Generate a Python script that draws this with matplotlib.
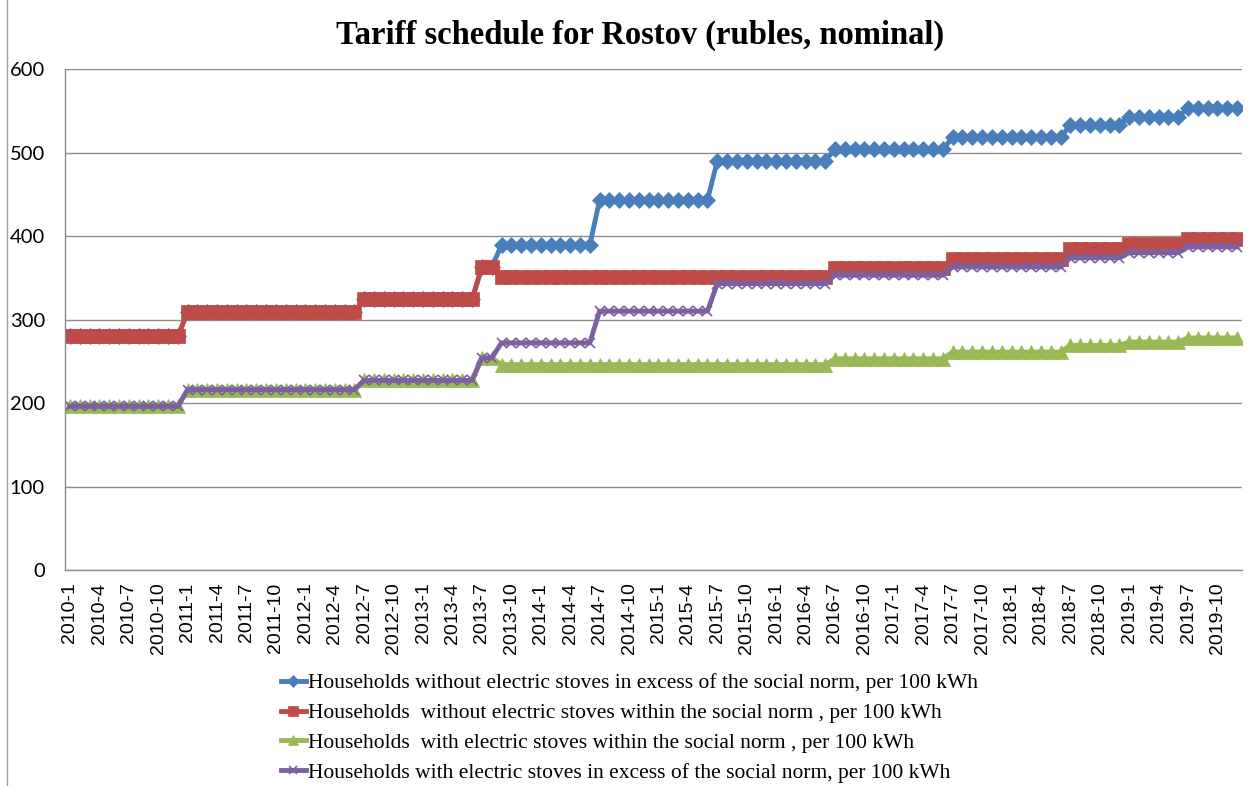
import numpy as np
import matplotlib
matplotlib.use("Agg")
import matplotlib.pyplot as plt
import matplotlib.patches as mpatches

# monthly tariffs, rubles per 100 kWh, 2010-1 .. 2019-12
no_stove_excess = [
    280, 280, 280, 280, 280, 280, 280, 280, 280, 280, 280, 280,  # 2010
    309, 309, 309, 309, 309, 309, 309, 309, 309, 309, 309, 309,  # 2011
    309, 309, 309, 309, 309, 309, 324, 324, 324, 324, 324, 324,  # 2012
    324, 324, 324, 324, 324, 324, 363, 363, 389, 389, 389, 389,  # 2013
    389, 389, 389, 389, 389, 389, 443, 443, 443, 443, 443, 443,  # 2014
    443, 443, 443, 443, 443, 443, 490, 490, 490, 490, 490, 490,  # 2015
    490, 490, 490, 490, 490, 490, 504, 504, 504, 504, 504, 504,  # 2016
    504, 504, 504, 504, 504, 504, 518, 518, 518, 518, 518, 518,  # 2017
    518, 518, 518, 518, 518, 518, 533, 533, 533, 533, 533, 533,  # 2018
    543, 543, 543, 543, 543, 543, 553, 553, 553, 553, 553, 553,  # 2019
]
no_stove_norm = [
    280, 280, 280, 280, 280, 280, 280, 280, 280, 280, 280, 280,
    309, 309, 309, 309, 309, 309, 309, 309, 309, 309, 309, 309,
    309, 309, 309, 309, 309, 309, 324, 324, 324, 324, 324, 324,
    324, 324, 324, 324, 324, 324, 363, 363, 351, 351, 351, 351,
    351, 351, 351, 351, 351, 351, 351, 351, 351, 351, 351, 351,
    351, 351, 351, 351, 351, 351, 351, 351, 351, 351, 351, 351,
    351, 351, 351, 351, 351, 351, 362, 362, 362, 362, 362, 362,
    362, 362, 362, 362, 362, 362, 373, 373, 373, 373, 373, 373,
    373, 373, 373, 373, 373, 373, 384, 384, 384, 384, 384, 384,
    391, 391, 391, 391, 391, 391, 397, 397, 397, 397, 397, 397,
]
stove_norm = [
    196, 196, 196, 196, 196, 196, 196, 196, 196, 196, 196, 196,
    216, 216, 216, 216, 216, 216, 216, 216, 216, 216, 216, 216,
    216, 216, 216, 216, 216, 216, 227, 227, 227, 227, 227, 227,
    227, 227, 227, 227, 227, 227, 254, 254, 246, 246, 246, 246,
    246, 246, 246, 246, 246, 246, 246, 246, 246, 246, 246, 246,
    246, 246, 246, 246, 246, 246, 246, 246, 246, 246, 246, 246,
    246, 246, 246, 246, 246, 246, 253, 253, 253, 253, 253, 253,
    253, 253, 253, 253, 253, 253, 261, 261, 261, 261, 261, 261,
    261, 261, 261, 261, 261, 261, 269, 269, 269, 269, 269, 269,
    273, 273, 273, 273, 273, 273, 278, 278, 278, 278, 278, 278,
]
stove_excess = [
    196, 196, 196, 196, 196, 196, 196, 196, 196, 196, 196, 196,
    216, 216, 216, 216, 216, 216, 216, 216, 216, 216, 216, 216,
    216, 216, 216, 216, 216, 216, 227, 227, 227, 227, 227, 227,
    227, 227, 227, 227, 227, 227, 254, 254, 272, 272, 272, 272,
    272, 272, 272, 272, 272, 272, 310, 310, 310, 310, 310, 310,
    310, 310, 310, 310, 310, 310, 343, 343, 343, 343, 343, 343,
    343, 343, 343, 343, 343, 343, 353, 353, 353, 353, 353, 353,
    353, 353, 353, 353, 353, 353, 363, 363, 363, 363, 363, 363,
    363, 363, 363, 363, 363, 363, 374, 374, 374, 374, 374, 374,
    380, 380, 380, 380, 380, 380, 387, 387, 387, 387, 387, 387,
]
years = list(range(2010, 2020))
months = list(range(1, 13))
labels = ["%d-%d" % (y, m) for y in years for m in months]

series = [
    (no_stove_excess, "Households without electric stoves in excess of the social norm, per 100 kWh",
     "#4A7EBB", "D", 8.5),
    (no_stove_norm, "Households  without electric stoves within the social norm , per 100 kWh",
     "#BE4B48", "s", 10),
    (stove_norm, "Households  with electric stoves within the social norm , per 100 kWh",
     "#98B954", "^", 10),
    (stove_excess, "Households with electric stoves in excess of the social norm, per 100 kWh",
     "#7D60A0", "x", 7),
]

fig = plt.figure(figsize=(12.51, 7.86), dpi=100)
ax = fig.add_axes([0.052, 0.2748, 0.9408, 0.6374])

x = np.arange(len(labels))
for vals, name, col, mk, ms in series:
    ax.plot(x, vals, color=col, lw=3.5, marker=mk, ms=ms, mfc=col, mec=col,
            mew=1.2 if mk == "x" else 0.5, label=name)

ax.set_xlim(-0.5, len(labels) - 0.5)
ax.set_ylim(0, 600)
ax.set_yticks(range(0, 601, 100))
ax.set_xticks(x[::3])
ax.set_xticklabels(labels[::3], rotation=90, fontsize=14, family="Liberation Sans")
for t in ax.get_yticklabels():
    t.set_fontfamily("Lato")
    t.set_fontsize(14.5)
ax.tick_params(axis="both", length=0)
ax.tick_params(axis="y", pad=14.5)
ax.tick_params(axis="x", pad=9)

ax.grid(axis="y", color="#8c8c8c", lw=1)
ax.set_axisbelow(True)
for s in ["top", "right"]:
    ax.spines[s].set_visible(False)
for s in ["left", "bottom"]:
    ax.spines[s].set_color("#8c8c8c")
    ax.spines[s].set_linewidth(1)

fig.text(0.512, 0.955, "Tariff schedule for Rostov (rubles, nominal)", ha="center", va="center",
         fontsize=23.5, fontweight="bold", family="Liberation Serif")

fig.legend(loc="upper center", bbox_to_anchor=(0.503, 0.157), frameon=False, ncol=1,
           prop={"family": "Liberation Serif", "size": 15.5}, handlelength=1.15,
           handletextpad=0.1, labelspacing=0.45, numpoints=1, borderpad=0, markerscale=0.75)

# chart area border
fig.patches.append(mpatches.Rectangle((7 / 1251, -0.01), 1.02, 1.02, transform=fig.transFigure,
                                      fill=False, ec="#a0a0a0", lw=1))

fig.savefig("out.png", dpi=100)
